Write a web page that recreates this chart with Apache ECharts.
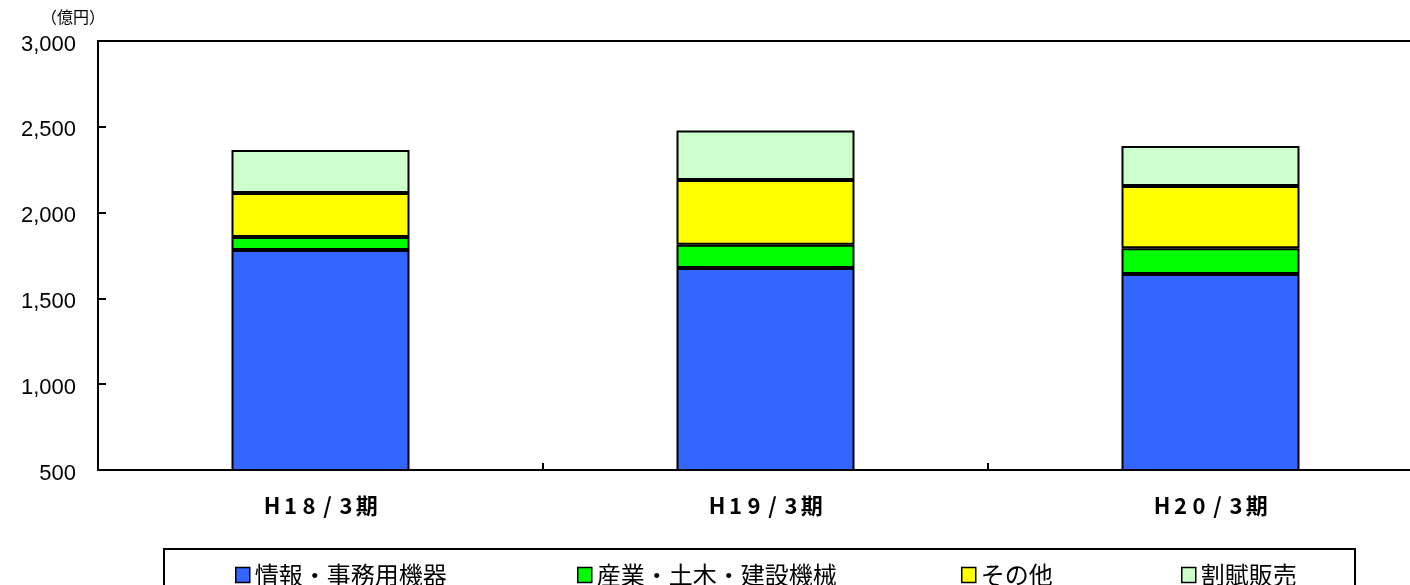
<!DOCTYPE html>
<html>
<head>
<meta charset="utf-8">
<script src="https://cdn.jsdelivr.net/npm/echarts@6/dist/echarts.min.js"></script>
<style>html,body{margin:0;padding:0;background:#fff}#c{width:1410px;height:585px}</style>
</head>
<body>
<div id="c"></div>
<script>
const categories = ['H18/3期', 'H19/3期', 'H20/3期'];
const seriesNames = ['情報・事務用機器', '産業・土木・建設機械', 'その他', '割賦販売'];
const infoOffice = [1782, 1677, 1642];
const industrial = [76, 136, 150];
const others = [256, 377, 363];
const installment = [251, 288, 233];
const yTicks = { min: 500, max: 3000, interval: 500 };
const colors = ['#3366FF', '#00FF00', '#FFFF00', '#CCFFCC'];
const values = [infoOffice, industrial, others, installment];

const chart = echarts.init(document.getElementById('c'));
const legendLefts = [230, 572, 956, 1176];
const font = '"Noto Sans CJK JP", sans-serif';

chart.setOption({
  animation: false,
  backgroundColor: '#fff',
  grid: { left: 98, top: 41, width: 1335, height: 429, outerBoundsMode: 'none', containLabel: false, show: false },
  xAxis: [{
    type: 'category', data: categories, boundaryGap: true, position: 'bottom',
    axisLine: { onZero: false, lineStyle: { color: '#000', width: 2 } },
    axisTick: { show: true, inside: true, length: 7, lineStyle: { color: '#000', width: 2 } },
    axisLabel: {
      margin: 25,
      formatter: v => v.split('').map(ch => (/[\x00-\x7f]/.test(ch) ? '{a|' + ch + '}' : '{k|' + ch + '}')).join(''),
      rich: {
        a: { width: 18.5, align: 'center', color: '#000', fontFamily: font, fontWeight: 'bold', fontSize: 22 },
        k: { width: 23, align: 'center', color: '#000', fontFamily: font, fontWeight: 'bold', fontSize: 22 }
      }
    }
  }, {
    type: 'category', data: categories, position: 'top',
    axisLine: { show: true, onZero: false, lineStyle: { color: '#000', width: 2 } },
    axisTick: { show: false }, axisLabel: { show: false }
  }],
  yAxis: [{
    type: 'value', min: yTicks.min, max: yTicks.max, interval: yTicks.interval, position: 'left',
    splitLine: { show: false },
    axisLine: { show: true, onZero: false, lineStyle: { color: '#000', width: 2 } },
    axisTick: { show: true, inside: true, length: 8, lineStyle: { color: '#000', width: 2 } },
    axisLabel: {
      margin: 22,
      formatter: v => '{v|' + v.toLocaleString('en-US') + '}',
      rich: { v: { color: '#000', fontFamily: '"Liberation Sans", Arial, sans-serif', fontSize: 22, padding: [7, 0, 0, 0] } }
    }
  }],
  legend: seriesNames.map((n, i) => ({
    data: [n], left: legendLefts[i], top: 558, itemWidth: 14, itemHeight: 15, itemGap: 6,
    icon: 'rect',
    itemStyle: { borderColor: '#000', borderWidth: 1.5 },
    textStyle: { color: '#000', fontFamily: font, fontSize: 24, padding: [0, 0, 0, 0] }
  })),
  graphic: [
    { type: 'rect', shape: { x: 164, y: 549, width: 1191, height: 60 }, style: { fill: 'none', stroke: '#000', lineWidth: 2 }, silent: true },
    { type: 'text', left: 41, top: 9, style: { text: '（億円）', fill: '#000', fontSize: 16, fontFamily: '"Noto Sans CJK JP", sans-serif' } }
  ],
  series: seriesNames.map((n, i) => ({
    name: n, type: 'bar', stack: 'total', data: values[i], barWidth: 178,
    itemStyle: { color: colors[i], borderColor: '#000', borderWidth: 2 }
  }))
});
</script>
</body>
</html>
